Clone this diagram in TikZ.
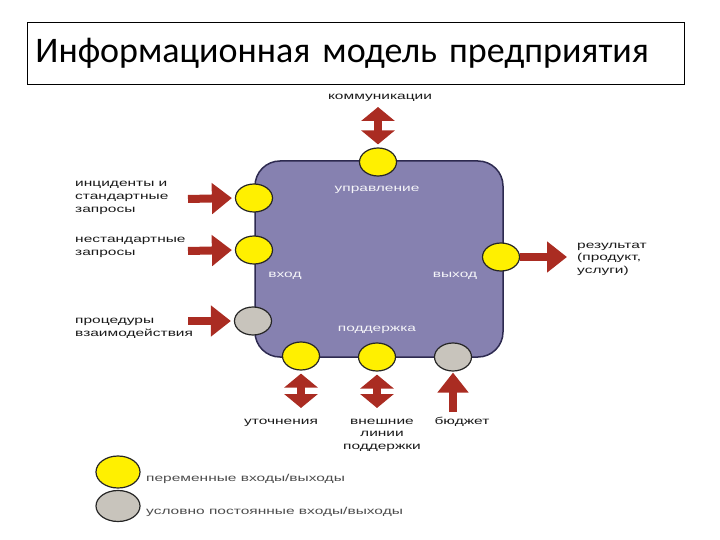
\documentclass[tikz,border=0pt]{standalone}
\usepackage{fontspec}
\setmainfont{Carlito}
\newfontfamily\lbl[FakeStretch=1.55]{Liberation Sans}
\usetikzlibrary{arrows.meta,shapes.geometric}
\definecolor{boxfill}{RGB}{134,129,176}
\definecolor{boxline}{RGB}{45,42,80}
\definecolor{arr}{RGB}{170,44,34}
\definecolor{yel}{RGB}{255,240,0}
\definecolor{gry}{RGB}{200,196,188}
\tikzset{
  port/.style={ellipse, draw=black!85, line width=1.2pt, minimum width=37pt, minimum height=28pt, inner sep=0pt},
  yport/.style={port, fill=yel},
  gport/.style={port, fill=gry},
  lab/.style={font=\lbl\fontsize{10}{12.5}\selectfont, text=black!90, inner sep=0pt},
  leglab/.style={font=\lbl\fontsize{10}{12.5}\selectfont, text=black!70, inner sep=0pt},
  inlab/.style={font=\lbl\fontsize{10}{12.5}\selectfont, text=white!92!boxfill, inner sep=0pt},
  onearr/.style={draw=arr, line width=8pt, -{Triangle[length=20pt,width=30pt]}},
  twoarr/.style={draw=arr, line width=8pt, {Triangle[length=14pt,width=33pt]}-{Triangle[length=14pt,width=33pt]}},
}
\begin{document}
\begin{tikzpicture}[x=1pt,y=-1pt]
\useasboundingbox (0,0) rectangle (720,540);
% title
\node (title) [draw, line width=0.8pt, anchor=north west, minimum width=657pt, minimum height=62pt,
  inner xsep=8pt, text width=641pt, align=left, font=\fontsize{36}{40}\selectfont] at (27,22)
  {Информационная модель предприятия};
% main box
\node (box) [draw=boxline, fill=boxfill, line width=1.5pt, rounded corners=25pt,
  minimum width=248pt, minimum height=196pt] at (379,259) {};
% inner labels
\node (upr) [inlab, anchor=base] at (377,192) {управление};
\node (vhod) [inlab, anchor=base] at (285,277) {вход};
\node (vyhod) [inlab, anchor=base] at (455,277) {выход};
\node (podd) [inlab, anchor=base] at (377,331) {поддержка};
% ports
\node (top) [yport] at (378,162) {};
\node (l1) [yport] at (254,198) {};
\node (l2) [yport] at (254,250) {};
\node (l3) [gport] at (253,321) {};
\node (r) [yport] at (501,257) {};
\node (b1) [yport] at (301,356) {};
\node (b2) [yport] at (377,357) {};
\node (b3) [gport] at (453,357) {};
% arrow free ends
\coordinate (ctop) at (378,107);
\coordinate (cl1) at (188,199);
\coordinate (cl2) at (188,251);
\coordinate (cl3) at (188,321);
\coordinate (cr) at (567,257);
\coordinate (cb1) at (301,408);
\coordinate (cb2) at (377,408);
\coordinate (cb3) at (453,412);
% arrows
\draw[twoarr, shorten >=3pt] (ctop) -- (top.north);
\draw[onearr, shorten >=3pt] (cl1) -- (l1.west);
\draw[onearr, shorten >=3pt] (cl2) -- (l2.west);
\draw[onearr, shorten >=3pt] (cl3) -- (l3.west);
\draw[onearr] (r.east) -- (cr);
\draw[twoarr, shorten <=3pt] (b1.south) -- (cb1);
\draw[twoarr, shorten <=3pt] (b2.south) -- (cb2);
\draw[onearr, shorten >=1pt] (cb3) -- (b3.south);
% outer labels (base = baseline of last line)
\node (lcom) [lab, anchor=base] at (380,100) {коммуникации};
\node (lin1) [lab, anchor=base west, align=left] at (75,212) {инциденты и\\стандартные\\запросы};
\node (lin2) [lab, anchor=base west, align=left] at (75,255) {нестандартные\\запросы};
\node (lin3) [lab, anchor=base west, align=left] at (75,336) {процедуры\\взаимодействия};
\node (lres) [lab, anchor=base west, align=left] at (577,273) {результат\\(продукт,\\услуги)};
\node (lut) [lab, anchor=base] at (281,424) {уточнения};
\node (lvn) [lab, anchor=base, align=center] at (382,449) {внешние\\линии\\поддержки};
\node (lbud) [lab, anchor=base] at (462,424) {бюджет};
% legend
\node (ly) [yport, minimum width=44pt, minimum height=32pt] at (118,472) {};
\node (lg) [gport, minimum width=44pt, minimum height=31pt] at (118,506) {};
\node (lyt) [leglab, anchor=base west] at (146,481) {переменные входы/выходы};
\node (lgt) [leglab, anchor=base west] at (146,514) {условно постоянные входы/выходы};
\end{tikzpicture}
\end{document}
